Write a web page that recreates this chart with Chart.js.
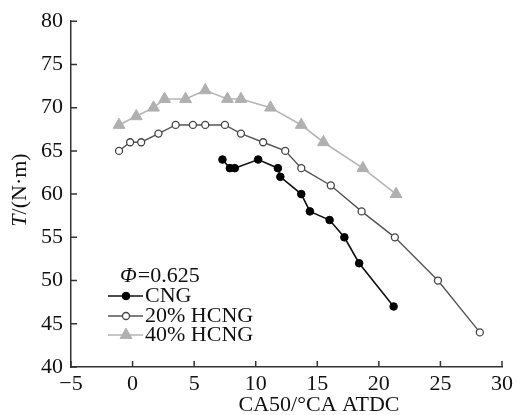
<!DOCTYPE html>
<html>
<head>
<meta charset="utf-8">
<script src="https://cdn.jsdelivr.net/npm/chart.js@4/dist/chart.umd.min.js"></script>
<style>
  html, body { margin: 0; padding: 0; background: #fff; }
  #wrap { width: 517px; height: 415px; }
</style>
</head>
<body>
<div id="wrap"><canvas id="c"></canvas></div>
<script>
// CA50 (°CA ATDC) and torque T (N·m) for each fuel, phi = 0.625
var cngX = [7.3, 7.9, 8.3, 10.2, 11.8, 12.0, 13.7, 14.4, 16.0, 17.2, 18.4, 21.2]
var cngY = [64, 63, 63, 64, 63, 62, 60, 58, 57, 55, 52, 47]
var h20X = [-1.1, -0.2, 0.7, 2.1, 3.5, 4.9, 5.9, 7.5, 8.8, 10.6, 12.4, 13.7, 16.1, 18.6, 21.3, 24.8, 28.2]
var h20Y = [65, 66, 66, 67, 68, 68, 68, 68, 67, 66, 65, 63, 61, 58, 55, 50, 44]
var h40X = [-1.1, 0.3, 1.7, 2.6, 4.3, 5.9, 7.7, 8.8, 11.2, 13.7, 15.5, 18.7, 21.4]
var h40Y = [68, 69, 70, 71, 71, 72, 71, 71, 70, 68, 66, 63, 60]

var seriesNames = ['CNG', '20% HCNG', '40% HCNG']
var xTicks = [-5, 0, 5, 10, 15, 20, 25, 30]
var yTicks = [40, 45, 50, 55, 60, 65, 70, 75, 80]

var FONT = '"Liberation Serif", "Times New Roman", serif'
var AXIS = '#333'

function pts(xs, ys) {
    var out = []
    for (var i = 0; i < xs.length; i++) out.push({x: xs[i], y: ys[i]})
    return out
}

// inward tick marks, axis titles and the legend box
var extras = {
    id: 'extras',
    afterDraw: function(chart) {
        var ctx = chart.ctx, a = chart.chartArea
        var xs = chart.scales.x, ys = chart.scales.y
        ctx.save()
        ctx.strokeStyle = AXIS
        ctx.lineWidth = 1.5
        ctx.beginPath()
        xTicks.forEach(function(v) {
            var px = xs.getPixelForValue(v)
            ctx.moveTo(px, a.bottom); ctx.lineTo(px, a.bottom - 6)
        })
        yTicks.forEach(function(v) {
            var py = ys.getPixelForValue(v)
            ctx.moveTo(a.left, py); ctx.lineTo(a.left + 6, py)
        })
        ctx.stroke()

        ctx.fillStyle = '#111'
        ctx.textBaseline = 'middle'

        // x title
        ctx.font = '22px ' + FONT
        ctx.textAlign = 'center'
        ctx.fillText('CA50/°CA ATDC', 319, 405)

        // y title, rotated
        ctx.save()
        ctx.translate(20, 190)
        ctx.rotate(-Math.PI / 2)
        ctx.textAlign = 'left'
        ctx.font = 'italic 22px ' + FONT
        var w1 = ctx.measureText('T').width
        ctx.font = '22px ' + FONT
        var w2 = ctx.measureText('/(N·m)').width
        var sx = -(w1 + w2) / 2
        ctx.font = 'italic 22px ' + FONT
        ctx.fillText('T', sx, 0)
        ctx.font = '22px ' + FONT
        ctx.fillText('/(N·m)', sx + w1, 0)
        ctx.restore()

        // legend
        ctx.textAlign = 'left'
        ctx.font = 'italic 22px ' + FONT
        ctx.fillText('Φ', 120, 276)
        var pw = ctx.measureText('Φ').width
        ctx.font = '22px ' + FONT
        ctx.fillText('=0.625', 120 + pw + 1, 276)

        var rows = [296, 316, 335]
        chart.data.datasets.forEach(function(ds, i) {
            var y = rows[i]
            ctx.strokeStyle = ds.borderColor
            ctx.lineWidth = ds.borderWidth
            ctx.beginPath()
            ctx.moveTo(108, y); ctx.lineTo(143, y)
            ctx.stroke()
            ctx.fillStyle = ds.pointBackgroundColor
            ctx.strokeStyle = ds.pointBorderColor
            ctx.lineWidth = ds.pointBorderWidth
            ctx.beginPath()
            if (ds.pointStyle === 'triangle') {
                var r = ds.pointRadius
                ctx.moveTo(126, y - r)
                ctx.lineTo(126 + r * 0.866, y + r * 0.5)
                ctx.lineTo(126 - r * 0.866, y + r * 0.5)
                ctx.closePath()
            } else {
                ctx.arc(126, y, ds.pointRadius, 0, Math.PI * 2)
            }
            ctx.fill(); ctx.stroke()
            ctx.fillStyle = '#111'
            ctx.fillText(seriesNames[i], 145, y)
        })
        ctx.restore()
    }
}

new Chart(document.getElementById('c'), {
    type: 'scatter',
    data: {
        datasets: [{
            label: seriesNames[0],
            data: pts(cngX, cngY),
            showLine: true,
            borderColor: '#111',
            borderWidth: 1.6,
            pointStyle: 'circle',
            pointRadius: 3.8,
            pointBackgroundColor: '#000',
            pointBorderColor: '#000',
            pointBorderWidth: 1
        }, {
            label: seriesNames[1],
            data: pts(h20X, h20Y),
            showLine: true,
            borderColor: '#555',
            borderWidth: 1.4,
            pointStyle: 'circle',
            pointRadius: 3.5,
            pointBackgroundColor: '#fff',
            pointBorderColor: '#444',
            pointBorderWidth: 1.3
        }, {
            label: seriesNames[2],
            data: pts(h40X, h40Y),
            showLine: true,
            borderColor: '#b5b5b5',
            borderWidth: 1.6,
            pointStyle: 'triangle',
            pointRadius: 6.8,
            pointBackgroundColor: '#b0b0b0',
            pointBorderColor: '#b0b0b0',
            pointBorderWidth: 1
        }]
    },
    options: {
        responsive: true,
        maintainAspectRatio: false,
        animation: false,
        layout: {padding: {top: 20, right: 13, left: 0, bottom: 0}},
        plugins: {legend: {display: false}, tooltip: {enabled: false}},
        elements: {line: {tension: 0}},
        scales: {
            x: {
                type: 'linear',
                min: -5, max: 30,
                afterFit: function(s) { s.height = 48 },
                afterBuildTicks: function(s) { s.ticks = xTicks.map(function(v) { return {value: v} }) },
                border: {display: true, color: AXIS, width: 1.5},
                grid: {display: false, drawTicks: false},
                ticks: {
                    padding: 4,
                    color: '#111',
                    font: {family: FONT, size: 22},
                    callback: function(v) { return v < 0 ? '\u2212' + Math.abs(v) : String(v) }
                }
            },
            y: {
                type: 'linear',
                min: 40, max: 80,
                afterFit: function(s) { s.width = 71 },
                afterBuildTicks: function(s) { s.ticks = yTicks.map(function(v) { return {value: v} }) },
                border: {display: true, color: AXIS, width: 1.5},
                grid: {display: false, drawTicks: false},
                ticks: {
                    padding: 8,
                    color: '#111',
                    font: {family: FONT, size: 22}
                }
            }
        }
    },
    plugins: [extras]
});
</script>
</body>
</html>
